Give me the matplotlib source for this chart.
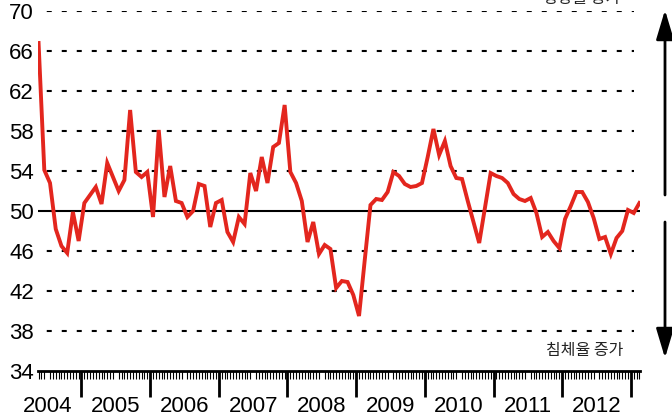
import matplotlib.pyplot as plt
import numpy as np

plt.rcParams['font.family'] = ['Liberation Sans', 'DejaVu Sans']
KR = ['Noto Sans CJK KR', 'DejaVu Sans']

# monthly index values, first month = May 2004
start_month = 4  # months after Jan 2004
values = [
    66.8, 54.1, 52.8, 48.2, 46.5, 45.8, 49.9, 47.0,                      # 2004
    50.8, 51.6, 52.4, 50.7, 54.8, 53.4, 52.0, 53.1, 60.1, 53.9, 53.4, 53.9,  # 2005
    49.4, 58.1, 51.4, 54.5, 51.0, 50.8, 49.4, 50.0, 52.7, 52.5, 48.4, 50.8,  # 2006
    51.1, 47.9, 46.9, 49.4, 48.7, 53.8, 52.0, 55.4, 52.8, 56.4, 56.8, 60.6,  # 2007
    53.9, 52.8, 51.0, 46.9, 48.9, 45.7, 46.6, 46.2, 42.3, 43.0, 42.9, 41.6,  # 2008
    39.5, 45.1, 50.6, 51.2, 51.1, 51.9, 53.9, 53.5, 52.7, 52.4, 52.5, 52.8,  # 2009
    55.4, 58.2, 55.6, 57.0, 54.5, 53.3, 53.2, 51.0, 48.9, 46.8, 50.3, 53.8,  # 2010
    53.5, 53.3, 52.8, 51.7, 51.2, 51.0, 51.3, 49.8, 47.4, 47.9, 47.0, 46.3,  # 2011
    49.2, 50.5, 51.9, 51.9, 50.9, 49.3, 47.2, 47.4, 45.7, 47.3, 48.0, 50.1,  # 2012
    49.8, 50.8,                                                          # 2013
]
years = [2004, 2005, 2006, 2007, 2008, 2009, 2010, 2011, 2012]
yticks = [34, 38, 42, 46, 50, 54, 58, 62, 66, 70]

fig = plt.figure(figsize=(6.72, 4.16), dpi=100)
ax = fig.add_axes([38/672, 1 - 371/416, 602/672, 360/416])

x = start_month + np.arange(len(values)) + 0.5

for v in yticks:
    if v == 50:
        ax.axhline(v, color='black', lw=1.5, zorder=2)
    elif v != 34:
        ax.axhline(v, color='black', lw=1.5, ls=(3, (2.4, 4.8)), xmax=0.99, zorder=1)

ax.plot(x, values, color='#e3261e', lw=2.8, zorder=3, solid_joinstyle='miter')

ax.set_xlim(4.4, 109.6)
ax.set_ylim(34, 70)
for s in ['top', 'left', 'right']:
    ax.spines[s].set_visible(False)
ax.spines['bottom'].set_linewidth(2)

ax.set_yticks(yticks)
ax.tick_params(axis='y', length=0, pad=3, labelsize=16)

ax.set_xticks([12 * (y - 2004) + 6 for y in years], [str(y) for y in years])
ax.tick_params(axis='x', which='major', length=0, pad=18, labelsize=16)
ax.set_xticks(np.arange(4.5, 109.6, 0.5), minor=True)
ax.tick_params(axis='x', which='minor', length=6, width=0.8, direction='out')

sec = ax.secondary_xaxis('bottom')
sec.set_xticks([12 * (y - 2004) for y in years[1:]] + [108], [])
sec.tick_params(length=19, width=2)
sec.spines['bottom'].set_visible(False)

fig.text(582/672, 1 - 3/416, '성장률 증가', ha='center', va='baseline',
         fontsize=11.5, family=KR, color='#222222')
fig.text(585/672, 1 - 351/416, '침체율 증가', ha='center', va='center',
         fontsize=11.5, family=KR, color='#222222')

arrow = dict(arrowstyle='-|>,head_length=0.9,head_width=0.27', mutation_scale=20,
             lw=2, color='black', shrinkA=0, shrinkB=0)
ax.annotate('', xy=(665, 416 - 10), xytext=(665, 416 - 195),
            xycoords='figure pixels', textcoords='figure pixels', arrowprops=arrow)
ax.annotate('', xy=(665, 416 - 358), xytext=(665, 416 - 222),
            xycoords='figure pixels', textcoords='figure pixels', arrowprops=arrow)

fig.savefig('out.png', dpi=100)
